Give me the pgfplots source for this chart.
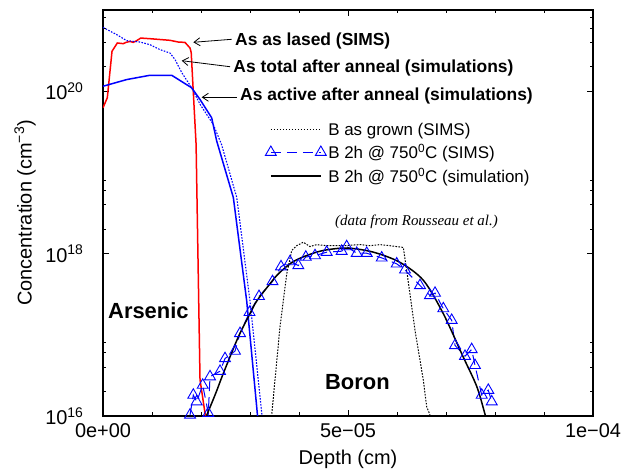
\documentclass[border=0pt]{standalone}
\usepackage{fontspec}
\setmainfont{Liberation Sans}
\newfontfamily\serifit{Liberation Serif}
\usepackage{pgfplots}
\pgfplotsset{compat=1.18}
\usetikzlibrary{arrows.meta}
\begin{document}
\begin{tikzpicture}
\path[use as bounding box] (-103bp,-57bp) rectangle (524bp,416bp);
\begin{axis}[
  at={(0,0)}, anchor=south west,
  width=490bp, height=406bp, scale only axis,
  xmin=0, xmax=1e-4, ymode=log, ymin=1e16, ymax=1e21,
  scaled x ticks=false,
  xtick={0,5e-5,1e-4}, xticklabels={0e+00,5e−05,1e−04},
  minor x tick num=4,
  ytick={1e16,1e18,1e20},
  yticklabels={10\textsuperscript{16},10\textsuperscript{18},10\textsuperscript{20}},
  minor ytick={2e16,4e16,6e16,8e16,2e18,4e18,6e18,8e18,2e20,4e20,6e20,8e20},
  tick align=inside,
  major tick length=6bp, minor tick length=3.5bp,
  every tick/.style={black, line width=0.8bp},
  axis line style={line width=1.2bp},
  ticklabel style={font=\fontsize{20}{24}\selectfont},
  xticklabel style={yshift=-4bp},
  yticklabel style={xshift=-16bp},
  xlabel={Depth (cm)}, ylabel={Concentration (cm\textsuperscript{−3})},
  label style={font=\fontsize{20}{24}\selectfont},
  xlabel style={at={(axis description cs:0.5,-0.108)}, anchor=center},
  ylabel style={at={(axis description cs:-0.159,0.5)}, anchor=center},
  legend style={at={(0.331,0.727)}, anchor=north west, draw=none, fill=none,
    font=\fontsize{17}{20}\selectfont, row sep=3.5bp, inner sep=0pt,
    nodes={inner sep=2bp}},
  legend cell align=left,
  legend image code/.code={\draw[#1] plot coordinates {(0bp,0bp) (50bp,0bp)};},
]
% As as lased (SIMS)
\addplot[red, line width=1.5bp, forget plot] coordinates {
(0,6.24e19) (8.8e-7,8.3e19) (1.84e-6,3.1e20) (2.92e-6,3.92e20) (4.14e-6,3.85e20)
(4.69e-6,3.99e20) (5.51e-6,4.1e20) (6.18e-6,3.99e20) (6.88e-6,4.19e20) (7.69e-6,4.51e20)
(9.59e-6,4.43e20) (1.367e-5,4.23e20) (1.537e-5,4.03e20) (1.673e-5,3.99e20) (1.776e-5,3.4e20)
(1.80e-5,3.0e20) (1.90e-5,2.2e19) (1.98e-5,2.8e16) (2.08e-5,1.1e16) (2.14e-5,7e15)};
% As total after anneal (simulations)
\addplot[blue, line width=1.1bp, dash pattern=on 1.6bp off 1.4bp, forget plot] coordinates {
(0,6.1e20) (2.8e-6,4.97e20) (4.84e-6,4.19e20) (7.55e-6,4.03e20) (9.59e-6,3.74e20)
(1.163e-5,3.25e20) (1.367e-5,2.95e20) (1.47e-5,2.45e20) (1.61e-5,1.68e20) (1.81e-5,1.1e20)
(1.98e-5,6.9e19) (2.25e-5,3.9e19) (2.42e-5,2.2e19) (2.73e-5,4.9e18) (3.0e-5,2.6e17)
(3.24e-5,1.08e16) (3.27e-5,7e15)};
% As active after anneal (simulations)
\addplot[blue, line width=1.5bp, forget plot] coordinates {
(0,1.15e20) (4.84e-6,1.39e20) (9.59e-6,1.57e20) (1.402e-5,1.57e20) (1.81e-5,1.1e20)
(1.98e-5,7.9e19) (2.218e-5,4.7e19) (2.32e-5,2.44e19) (2.66e-5,4.9e18) (2.933e-5,2.6e17)
(3.149e-5,1.08e16) (3.18e-5,7e15)};
% B as grown (SIMS)
\addplot[black, line width=1bp, dash pattern=on 1.6bp off 1.4bp] coordinates {
(3.40e-5,7e15) (3.443e-5,1.03e16) (3.612e-5,1.25e17) (3.749e-5,5.6e17) (3.851e-5,1.09e18)
(3.953e-5,1.25e18) (4.088e-5,1.38e18) (4.224e-5,1.22e18) (4.361e-5,1.29e18) (4.565e-5,1.25e18)
(4.904e-5,1.25e18) (5.245e-5,1.29e18) (5.449e-5,1.25e18) (5.653e-5,1.29e18) (5.857e-5,1.25e18)
(6.129e-5,1.19e18) (6.198e-5,6.18e17) (6.367e-5,1.14e17) (6.537e-5,2.77e16) (6.606e-5,1.3e16)
(6.673e-5,1.03e16) (6.71e-5,7.5e15)};
\addlegendentry{B as grown (SIMS)}
% B 2h @ 750C (SIMS)
\addplot[blue, line width=1bp, dash pattern=on 10bp off 6bp, mark=triangle,
  mark size=6.3bp, mark options={solid, line width=0.9bp}] coordinates {
(1.776e-5,1.03e16) (1.843e-5,1.81e16) (1.912e-5,1.5e16) (2.035e-5,2.4e16) (2.149e-5,1.08e16)
(2.184e-5,3.05e16) (2.388e-5,3.56e16) (2.490e-5,5.1e16) (2.694e-5,6.3e16) (2.796e-5,1.04e17)
(2.990e-5,1.89e17) (3.184e-5,2.97e17) (3.459e-5,4.53e17) (3.633e-5,6.9e17) (3.816e-5,7.97e17)
(3.986e-5,7.13e17) (4.139e-5,9.06e17) (4.327e-5,9.45e17) (4.565e-5,1.04e18) (4.871e-5,1.07e18)
(4.973e-5,1.22e18) (5.178e-5,1.01e18) (5.382e-5,1.01e18) (5.688e-5,8.85e17) (5.994e-5,7.48e17)
(6.163e-5,6.3e17) (6.469e-5,4.05e17) (6.673e-5,3.05e17) (6.776e-5,3.26e17) (6.945e-5,2.1e17)
(7.116e-5,1.51e17) (7.184e-5,7.4e16) (7.388e-5,5.45e16) (7.524e-5,6.6e16) (7.592e-5,4.2e16)
(7.729e-5,1.81e16) (7.863e-5,2.08e16) (7.933e-5,1.5e16)};
\addlegendentry{B 2h @ 750\textsuperscript{0}C (SIMS)}
% B 2h @ 750C (simulation)
\addplot[black, line width=1.5bp, smooth] coordinates {
(2.11e-5,1.0e16) (2.30e-5,1.9e16) (2.455e-5,3.34e16) (2.761e-5,9.4e16) (3.0e-5,1.82e17)
(3.137e-5,2.6e17) (3.408e-5,4.25e17) (3.6e-5,5.8e17) (3.92e-5,8.2e17) (4.43e-5,1.07e18)
(4.97e-5,1.17e18) (5.52e-5,1.04e18) (6.06e-5,7.8e17) (6.54e-5,4.67e17) (6.945e-5,1.82e17)
(7.35e-5,5.35e16) (7.63e-5,2.29e16) (7.80e-5,1.03e16) (7.85e-5,8e15)};
\addlegendentry{B 2h @ 750\textsuperscript{0}C (simulation)}
% annotations
\begin{scope}[every node/.style={anchor=west, inner sep=0pt, font=\bfseries\fontsize{17.5}{20}\selectfont}]
\node at (rel axis cs:0.2694,0.9236) {As as lased (SIMS)};
\node at (rel axis cs:0.2659,0.8564) {As total after anneal (simulations)};
\node at (rel axis cs:0.2796,0.7882) {As active after anneal (simulations)};
\end{scope}
\draw[-{Straight Barb[length=6bp,width=8bp]}, line width=0.8bp] (rel axis cs:0.2627,0.9278) -- (rel axis cs:0.1843,0.9204);
\draw[-{Straight Barb[length=6bp,width=8bp]}, line width=0.8bp] (rel axis cs:0.2592,0.8603) -- (rel axis cs:0.1606,0.8751);
\draw[-{Straight Barb[length=6bp,width=8bp]}, line width=0.8bp] (rel axis cs:0.2729,0.785) -- (rel axis cs:0.2014,0.785);
\node[anchor=west, inner sep=0pt, font=\bfseries\fontsize{22}{26}\selectfont] at (rel axis cs:0.0102,0.2586) {Arsenic};
\node[anchor=west, inner sep=0pt, font=\bfseries\fontsize{22}{26}\selectfont] at (rel axis cs:0.453,0.0837) {Boron};
\node[anchor=west, inner sep=0pt, font=\serifit\itshape\fontsize{15}{18}\selectfont] at (rel axis cs:0.4735,0.478) {(data from Rousseau et al.)};
\end{axis}
\end{tikzpicture}
\end{document}
